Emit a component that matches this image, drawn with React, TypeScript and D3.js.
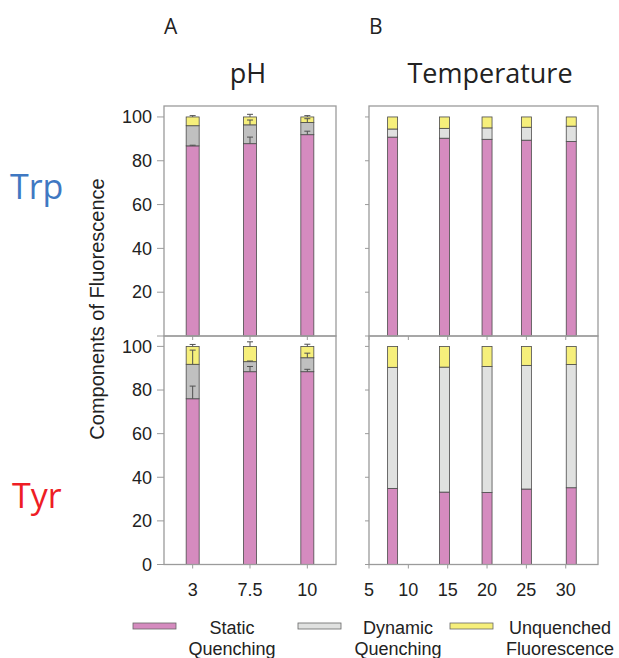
import React from 'react';
import * as d3 from 'd3';

// pH panel (A)
const phLabels = ['3', '7.5', '10'];
const trpPhStatic = [86.8, 87.8, 91.9];
const trpPhDynamic = [9.2, 8.6, 5.6];
const trpPhUnquenched = [4.0, 3.6, 2.5];
const trpPhStaticErr = [0.3, 3.0, 1.6];
const trpPhDynamicErr = [0, 2.2, 1.7];
const trpPhUnquenchedErr = [0.6, 1.2, 0.6];

const tyrPhStatic = [76.0, 88.4, 88.4];
const tyrPhDynamic = [15.8, 4.6, 6.4];
const tyrPhUnquenched = [8.2, 7.0, 5.2];
const tyrPhStaticErr = [5.8, 2.4, 1.1];
const tyrPhDynamicErr = [6.5, 0.3, 2.1];
const tyrPhUnquenchedErr = [0.9, 2.1, 1.0];

// temperature panel (B)
const temps = [8, 14.6, 20, 25, 30.7];
const tempTicks = [5, 10, 15, 20, 25, 30];
const trpTStatic = [90.8, 90.3, 89.8, 89.4, 88.8];
const trpTDynamic = [3.7, 4.5, 5.2, 5.9, 7.0];
const trpTUnquenched = [5.5, 5.2, 5.0, 4.7, 4.2];

const tyrTStatic = [34.9, 33.2, 33.0, 34.6, 35.2];
const tyrTDynamic = [55.5, 57.3, 57.8, 56.7, 56.5];
const tyrTUnquenched = [9.6, 9.5, 9.2, 8.7, 8.3];

const yTicks = [0, 20, 40, 60, 80, 100];
const legendItems = [
  { l1: 'Static', l2: 'Quenching' },
  { l1: 'Dynamic', l2: 'Quenching' },
  { l1: 'Unquenched', l2: 'Fluorescence' },
];

const PINK = '#d58bbf';
const GRAY = '#c0c0c0';
const LIGHT = '#e0e1e0';
const YELLOW = '#f6ef7b';
const FRAME = '#9b9b9b';
const EDGE = '#4a4a4a';
const NUM = 'Liberation Sans';
const TITLE = 'Open Sans';

function Stack({ xs, w, y, stat, dyn, unq, dynColor, errs }) {
  return (
    <g>
      {xs.map((x, i) => {
        const tops = [stat[i], stat[i] + dyn[i], stat[i] + dyn[i] + unq[i]];
        const bottoms = [0, stat[i], stat[i] + dyn[i]];
        const fills = [PINK, dynColor, YELLOW];
        return (
          <g key={i}>
            {fills.map((f, k) => (
              <rect key={k} x={x - w / 2} y={y(tops[k])} width={w}
                height={y(bottoms[k]) - y(tops[k])} fill={f} stroke={EDGE} strokeWidth={0.8} />
            ))}
            {errs && errs.map((e, k) => e[i] > 0 ? (
              <g key={'e' + k} stroke="#505050" strokeWidth={1}>
                <line x1={x} x2={x} y1={y(tops[k])} y2={y(tops[k] + e[i])} />
                <line x1={x - 3} x2={x + 3} y1={y(tops[k] + e[i])} y2={y(tops[k] + e[i])} />
              </g>
            ) : null)}
          </g>
        );
      })}
    </g>
  );
}

export default function App() {
  const xL = d3.scalePoint().domain(phLabels).range([164, 336]).padding(0.5);
  const xR = d3.scaleLinear().domain([5, 34.1]).range([369, 598]);
  const yTop = d3.scaleLinear().domain([0, 105]).range([336, 106]);
  const yBot = d3.scaleLinear().domain([0, 105]).range([564.5, 335.5]);

  const phX = phLabels.map(d => xL(d));
  const tX = temps.map(d => xR(d));

  const frame = (x0, x1, y0, y1) => (
    <rect x={x0} y={y0} width={x1 - x0} height={y1 - y0} fill="none" stroke={FRAME} strokeWidth={1.3} />
  );

  return (
    <svg width={619} height={658} style={{ position: 'absolute', left: 0, top: 0, background: '#fff' }}>
      <text x={164} y={34} fontFamily={TITLE} fontSize={21} fill="#222">A</text>
      <text x={369} y={34} fontFamily={TITLE} fontSize={21} fill="#222">B</text>
      <text x={248} y={83} textAnchor="middle" fontFamily={TITLE} fontSize={27} fill="#222">pH</text>
      <text x={490} y={83} textAnchor="middle" fontFamily={TITLE} fontSize={27} fill="#222">Temperature</text>
      <text x={10} y={199} fontFamily={TITLE} fontSize={34} fill="#3f78c2">Trp</text>
      <text x={12} y={508} fontFamily={TITLE} fontSize={34} fill="#ee1d25">Tyr</text>

      <text transform="translate(104,309) rotate(-90)" textAnchor="middle" fontFamily={NUM} fontSize={20} fill="#222">
        Components of Fluorescence
      </text>

      {/* y axes */}
      {[yTop, yBot].map((y, p) => (
        <g key={p}>
          {yTicks.map(t => (
            <g key={t}>
              <line x1={157} x2={164} y1={y(t)} y2={y(t)} stroke={FRAME} />
              <line x1={365} x2={369} y1={y(t)} y2={y(t)} stroke={FRAME} />
              {!(p === 0 && t === 0) && (
                <text x={152} y={y(t)} dy="0.35em" textAnchor="end" fontFamily={NUM} fontSize={18} fill="#222">{t}</text>
              )}
            </g>
          ))}
        </g>
      ))}

      {/* x ticks */}
      {[336, 564.5].map(yb => (
        <g key={yb}>
          {phX.map((x, i) => <line key={i} x1={x} x2={x} y1={yb} y2={yb + 4} stroke={FRAME} />)}
          {tempTicks.map(t => <line key={t} x1={xR(t)} x2={xR(t)} y1={yb} y2={yb + 4} stroke={FRAME} />)}
        </g>
      ))}
      {phLabels.map((d, i) => (
        <text key={d} x={phX[i]} y={596} textAnchor="middle" fontFamily={NUM} fontSize={18} fill="#222">{d}</text>
      ))}
      {tempTicks.map(t => (
        <text key={t} x={xR(t)} y={596} textAnchor="middle" fontFamily={NUM} fontSize={18} fill="#222">{t}</text>
      ))}

      {/* bars */}
      <Stack xs={phX} w={13} y={yTop} stat={trpPhStatic} dyn={trpPhDynamic} unq={trpPhUnquenched}
        dynColor={GRAY} errs={[trpPhStaticErr, trpPhDynamicErr, trpPhUnquenchedErr]} />
      <Stack xs={phX} w={13} y={yBot} stat={tyrPhStatic} dyn={tyrPhDynamic} unq={tyrPhUnquenched}
        dynColor={GRAY} errs={[tyrPhStaticErr, tyrPhDynamicErr, tyrPhUnquenchedErr]} />
      <Stack xs={tX} w={10} y={yTop} stat={trpTStatic} dyn={trpTDynamic} unq={trpTUnquenched} dynColor={LIGHT} />
      <Stack xs={tX} w={10} y={yBot} stat={tyrTStatic} dyn={tyrTDynamic} unq={tyrTUnquenched} dynColor={LIGHT} />

      {frame(164, 336, 106, 336)}
      {frame(164, 336, 336, 564.5)}
      {frame(369, 598, 106, 336)}
      {frame(369, 598, 336, 564.5)}

      {/* legend */}
      {legendItems.map((d, i) => {
        const sx = [133, 298, 450][i];
        const cx = [232, 398, 560][i];
        const fill = [PINK, LIGHT, YELLOW][i];
        return (
          <g key={i}>
            <rect x={sx} y={623} width={43} height={6} fill={fill} stroke="#666" strokeWidth={0.8} />
            <text x={cx} y={634} textAnchor="middle" fontFamily={NUM} fontSize={18} fill="#222">{d.l1}</text>
            <text x={cx} y={655} textAnchor="middle" fontFamily={NUM} fontSize={18} fill="#222">{d.l2}</text>
          </g>
        );
      })}
    </svg>
  );
}
